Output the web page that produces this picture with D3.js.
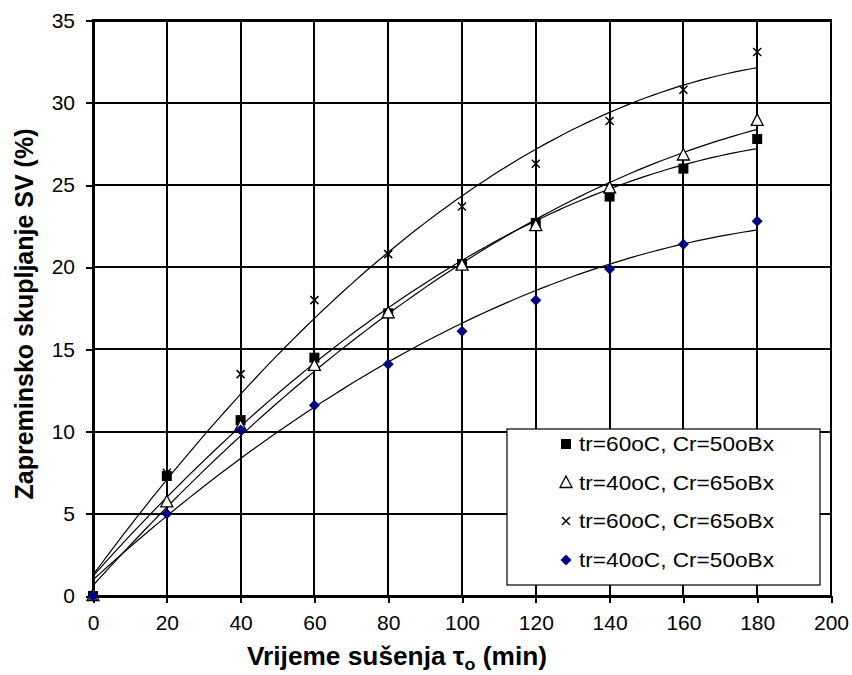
<!DOCTYPE html>
<html><head><meta charset="utf-8">
<script src="https://cdn.jsdelivr.net/npm/d3@7"></script>
<style>body{margin:0;background:#fff}svg{display:block}</style>
</head><body><svg id="c" width="852" height="675"></svg>
<script>
const times = [0, 20, 40, 60, 80, 100, 120, 140, 160, 180];
const s60_50 = [0, 7.3, 10.7, 14.5, 17.2, 20.2, 22.7, 24.3, 26.0, 27.8];
const s40_65 = [0, 5.7, 10.3, 14.0, 17.2, 20.1, 22.5, 24.8, 26.8, 28.9];
const s60_65 = [0, 7.5, 13.5, 18.0, 20.8, 23.7, 26.3, 28.9, 30.8, 33.1];
const s40_50 = [0, 5.0, 10.1, 11.6, 14.1, 16.1, 18.0, 19.9, 21.4, 22.8];
const seriesNames = ["tr=60oC, Cr=50oBx", "tr=40oC, Cr=65oBx", "tr=60oC, Cr=65oBx", "tr=40oC, Cr=50oBx"];
const xTicks = [0, 20, 40, 60, 80, 100, 120, 140, 160, 180, 200];
const yTicks = [0, 5, 10, 15, 20, 25, 30, 35];

const seriesList = [
  {name: seriesNames[0], values: s60_50, marker: "square"},
  {name: seriesNames[1], values: s40_65, marker: "triangle"},
  {name: seriesNames[2], values: s60_65, marker: "cross"},
  {name: seriesNames[3], values: s40_50, marker: "diamond"}
];

const svg = d3.select("#c");
svg.append("rect").attr("width", 852).attr("height", 675).attr("fill", "#fff");
const L = 93, R = 831, T = 20.7, B = 596;
const x = d3.scaleLinear().domain([0, 200]).range([L, R]);
const y = d3.scaleLinear().domain([0, 35]).range([B, T]);
const font = "'Liberation Sans', Arial, sans-serif";

// grid
const grid = svg.append("g").attr("stroke", "#000").attr("stroke-width", 2).attr("shape-rendering", "crispEdges");
xTicks.forEach(t => grid.append("line").attr("x1", x(t)).attr("x2", x(t)).attr("y1", T).attr("y2", B));
yTicks.forEach(t => grid.append("line").attr("x1", L).attr("x2", R).attr("y1", y(t)).attr("y2", y(t)));
svg.append("rect").attr("x", L).attr("y", T).attr("width", R - L).attr("height", B - T)
  .attr("fill", "none").attr("stroke", "#000").attr("stroke-width", 2.5).attr("shape-rendering", "crispEdges");

// axes
const xAxis = svg.append("g").attr("transform", `translate(0,${B})`)
  .call(d3.axisBottom(x).tickValues(xTicks).tickSize(7).tickSizeOuter(0).tickPadding(21));
const yAxis = svg.append("g").attr("transform", `translate(${L},0)`)
  .call(d3.axisLeft(y).tickValues(yTicks).tickSize(7).tickSizeOuter(0).tickPadding(11));
[xAxis, yAxis].forEach(a => {
  a.select(".domain").attr("stroke", "#000").attr("stroke-width", 2.5).attr("shape-rendering", "crispEdges");
  a.selectAll(".tick line").attr("stroke", "#000").attr("stroke-width", 2).attr("shape-rendering", "crispEdges");
  a.selectAll(".tick text").attr("font-family", font).attr("font-size", 21).attr("fill", "#000");
});
xAxis.selectAll(".tick text").attr("dy", "0.3em");

// quadratic least-squares trendlines
function quadFit(xs, ys) {
  let S = [0, 0, 0, 0, 0], Sy = [0, 0, 0];
  xs.forEach((xi, i) => {
    for (let k = 0; k < 5; k++) S[k] += Math.pow(xi, k);
    for (let k = 0; k < 3; k++) Sy[k] += Math.pow(xi, k) * ys[i];
  });
  const M = [[S[0], S[1], S[2], Sy[0]], [S[1], S[2], S[3], Sy[1]], [S[2], S[3], S[4], Sy[2]]];
  for (let i = 0; i < 3; i++) {
    for (let j = i + 1; j < 3; j++) {
      const f = M[j][i] / M[i][i];
      for (let k = i; k < 4; k++) M[j][k] -= f * M[i][k];
    }
  }
  const c = [0, 0, 0];
  for (let i = 2; i >= 0; i--) {
    let s = M[i][3];
    for (let k = i + 1; k < 3; k++) s -= M[i][k] * c[k];
    c[i] = s / M[i][i];
  }
  return t => c[0] + c[1] * t + c[2] * t * t;
}
const line = d3.line().x(d => x(d[0])).y(d => y(d[1]));
const xs = d3.range(0, 180.01, 2);
seriesList.forEach(s => {
  const f = quadFit(times, s.values);
  svg.append("path").attr("d", line(xs.map(t => [t, f(t)])))
    .attr("fill", "none").attr("stroke", "#000").attr("stroke-width", 1.2);
});

// markers
function drawMarker(g, type, cx, cy) {
  if (type === "square") {
    g.append("rect").attr("x", cx - 5).attr("y", cy - 5).attr("width", 10).attr("height", 10).attr("fill", "#000");
  } else if (type === "triangle") {
    g.append("path").attr("d", `M${cx},${cy - 7}L${cx + 6},${cy + 4.5}L${cx - 6},${cy + 4.5}Z`)
      .attr("fill", "#fff").attr("stroke", "#000").attr("stroke-width", 1.3);
  } else if (type === "cross") {
    g.append("path").attr("d", `M${cx - 4},${cy - 4}L${cx + 4},${cy + 4}M${cx - 4},${cy + 4}L${cx + 4},${cy - 4}`)
      .attr("stroke", "#000").attr("stroke-width", 1.5).attr("fill", "none");
  } else {
    g.append("path").attr("d", `M${cx},${cy - 5.5}L${cx + 5.5},${cy}L${cx},${cy + 5.5}L${cx - 5.5},${cy}Z`)
      .attr("fill", "#000080");
  }
}
const mg = svg.append("g");
seriesList.forEach(s => {
  times.forEach((t, i) => drawMarker(mg, s.marker, x(t), y(s.values[i])));
});

// legend
const lg = svg.append("g");
lg.append("rect").attr("x", 507).attr("y", 429).attr("width", 313).attr("height", 156)
  .attr("fill", "#fff").attr("stroke", "#000").attr("stroke-width", 1.2);
const rowY = [444, 483, 521, 560];
seriesList.forEach((s, i) => {
  drawMarker(lg, s.marker, 566, rowY[i]);
  lg.append("text").attr("x", 579).attr("y", rowY[i]).attr("dy", "0.35em")
    .attr("font-family", font).attr("font-size", 21).attr("textLength", 195).attr("lengthAdjust", "spacingAndGlyphs")
    .text(s.name);
});

// titles
const xt = svg.append("text").attr("x", 397).attr("y", 665).attr("text-anchor", "middle")
  .attr("font-family", font).attr("font-size", 25).attr("font-weight", "bold")
  .attr("textLength", 300).attr("lengthAdjust", "spacingAndGlyphs");
xt.append("tspan").text("Vrijeme sušenja τ");
xt.append("tspan").attr("font-size", 17).attr("dy", 5).text("o");
xt.append("tspan").attr("dy", -5).text("  (min)");
svg.append("text").attr("transform", "translate(33,314) rotate(-90)").attr("text-anchor", "middle")
  .attr("font-family", font).attr("font-size", 25).attr("font-weight", "bold")
  .text("Zapreminsko skupljanje SV (%)");
</script></body></html>
